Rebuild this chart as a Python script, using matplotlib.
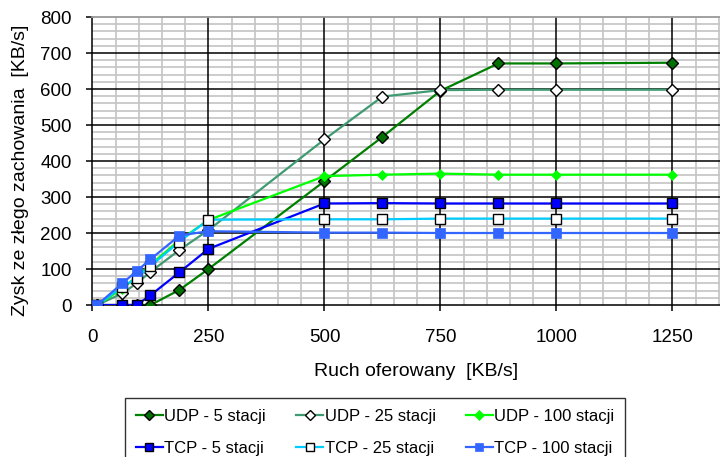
import matplotlib
matplotlib.use("Agg")
import matplotlib.pyplot as plt
from matplotlib.ticker import MultipleLocator

plt.rcParams['font.family'] = ['Liberation Sans', 'DejaVu Sans']

x = [10, 64, 95, 125, 187.5, 250, 500, 625, 750, 875, 1000, 1250]
udp5 = [0, 0, 0, 0, 42, 100, 344, 467, 595, 671, 671, 673]
udp25 = [0, 32, 60, 92, 153, 208, 460, 579, 597, 598, 598, 598]
udp100 = [0, 45, 78, 112, 180, 236, 358, 362, 365, 362, 362, 362]
tcp5 = [0, 0, 0, 27, 91, 156, 282, 283, 282, 282, 282, 282]
tcp25 = [0, 50, 75, 108, 176, 237, 238, 238, 240, 240, 240, 240]
tcp100 = [0, 60, 94, 127, 193, 205, 201, 201, 200, 200, 200, 200]

labels = ["UDP - 5 stacji", "UDP - 25 stacji", "UDP - 100 stacji",
          "TCP - 5 stacji", "TCP - 25 stacji", "TCP - 100 stacji"]
xticks = [0, 250, 500, 750, 1000, 1250]
yticks = [0, 100, 200, 300, 400, 500, 600, 700, 800]
XMAX = 1400

FS_TICK = 13.5
FS_LAB = 14
FS_LEG = 12
fig = plt.figure(figsize=(7.2, 4.57), dpi=100)
left_px, right_px = 92.5, 742.0
ax = fig.add_axes([left_px/720, 1 - 305/457, (right_px - left_px)/720, (305 - 17)/457])

lw = 1.6
h = []
h += ax.plot(x, udp5, color='#008000', lw=lw, marker='D', ms=6.5, mfc='#007000', mec='black', mew=1.0, label=labels[0], zorder=3)
h += ax.plot(x, udp25, color='#3f9a72', lw=lw, marker='D', ms=6.5, mfc='white', mec='black', mew=1.0, label=labels[1], zorder=3)
h += ax.plot(x, udp100, color='#00ff00', lw=lw, marker='D', ms=5.5, mfc='#00ff00', mec='#00ff00', mew=0.5, label=labels[2], zorder=3)
h += ax.plot(x, tcp5, color='#0000ff', lw=lw, marker='s', ms=6.5, mfc='#0000ff', mec='black', mew=1.0, label=labels[3], zorder=3)
h += ax.plot(x, tcp25, color='#00ccff', lw=lw, marker='s', ms=6.5, mfc='white', mec='black', mew=1.0, label=labels[4], zorder=3)
h += ax.plot(x, tcp100, color='#3366ff', lw=lw, marker='s', ms=6.5, mfc='#3366ff', mec='#3366ff', mew=0.5, label=labels[5], zorder=3)

ax.set_xlim(0, XMAX)
ax.set_ylim(0, 800)
ax.set_xticks(xticks)
ax.set_xticklabels([str(v) for v in xticks])
ax.set_yticks(yticks)
ax.xaxis.set_minor_locator(MultipleLocator(50))
ax.yaxis.set_minor_locator(MultipleLocator(20))
ax.grid(which='minor', color='#c4c4c4', lw=1.2)
ax.grid(which='major', visible=False)
ax.set_axisbelow(True)
for v in xticks[1:]:
    ax.axvline(v, color='black', lw=1.1, zorder=1)
for v in yticks[1:-1]:
    ax.axhline(v, color='black', lw=1.1, zorder=1)

ax.tick_params(which='minor', length=0)
ax.tick_params(which='major', direction='out', length=4, width=1.1, color='black',
               labelsize=FS_TICK)
ax.tick_params(axis='y', pad=11)
ax.tick_params(axis='x', pad=13)
for s in ['left', 'bottom']:
    ax.spines[s].set_color('black')
    ax.spines[s].set_linewidth(1.1)
    ax.spines[s].set_zorder(2)
ax.spines['top'].set_color('#999999')
ax.spines['top'].set_linewidth(1.3)
ax.spines['right'].set_visible(False)

ax.set_xlabel("Ruch oferowany  [KB/s]", fontsize=FS_LAB)
ax.set_ylabel("Zysk ze złego zachowania  [KB/s]", fontsize=FS_LAB)
ax.xaxis.set_label_coords(0.498, -0.2)
ax.yaxis.set_label_coords(-0.098, 0.469)

order = [0, 3, 1, 4, 2, 5]
leg = fig.legend([h[i] for i in order], [labels[i] for i in order],
                 loc='upper left', bbox_to_anchor=(125/720, 1 - 398/457), ncol=3,
                 fontsize=FS_LEG, frameon=True, fancybox=False, edgecolor='black',
                 handlelength=1.62, handletextpad=0.1, columnspacing=1.8,
                 labelspacing=1.0, borderpad=0.65, borderaxespad=0)
leg.get_frame().set_linewidth(1.0)
for hh in leg.legend_handles:
    hh.set_markersize(5.5)

fig.savefig("out.png", dpi=100)
